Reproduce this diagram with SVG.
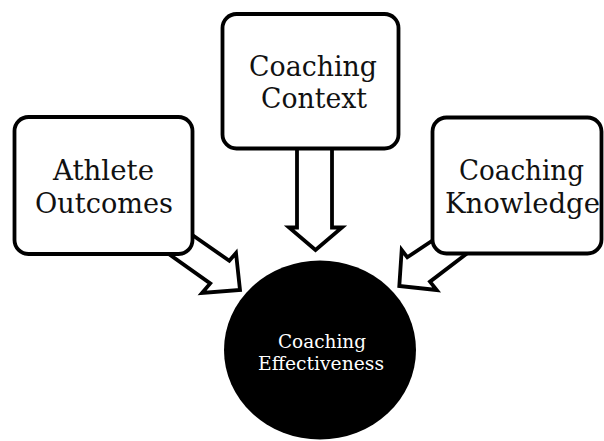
<svg xmlns="http://www.w3.org/2000/svg" width="604" height="441" viewBox="0 0 604 441">
<style>
.box{fill:#fff;stroke:#000;stroke-width:3.8}
.arrow{fill:#fff;stroke:#000;stroke-width:3.8;stroke-linejoin:miter}
.lbl{font-family:"DejaVu Serif","Liberation Serif",serif;font-size:28.5px;fill:#111;text-anchor:middle}
.clbl{font-family:"DejaVu Serif","Liberation Serif",serif;font-size:19px;fill:#fff;text-anchor:middle}
</style>
<rect width="604" height="441" fill="#fff"/>
<g id="connectors">
<polygon class="arrow" points="297,140 297,227.5 289,227.5 315.5,250 342,227.5 332,227.5 332,140"/>
<polygon class="arrow" points="168,218 229.3,260.8 236,253 240,290 202,293 210.2,283.4 148.5,239.6"/>
<polygon class="arrow" points="455.7,225 407.3,257.3 401.7,250 399.3,286 436.7,290 430,281.7 486.7,238.4"/>
</g>
<g id="node-context">
<rect class="box" x="222.5" y="14" width="176" height="134.5" rx="14"/>
<text class="lbl" x="313" y="76" textLength="128" lengthAdjust="spacingAndGlyphs">Coaching</text>
<text class="lbl" x="314" y="108" textLength="106" lengthAdjust="spacingAndGlyphs">Context</text>
</g>
<g id="node-athlete">
<rect class="box" x="14.5" y="117" width="178" height="137" rx="14"/>
<text class="lbl" x="103.5" y="180" textLength="101" lengthAdjust="spacingAndGlyphs">Athlete</text>
<text class="lbl" x="104" y="213" textLength="138" lengthAdjust="spacingAndGlyphs">Outcomes</text>
</g>
<g id="node-knowledge">
<rect class="box" x="432.5" y="117.5" width="169" height="136" rx="14"/>
<text class="lbl" x="521.5" y="180" textLength="125" lengthAdjust="spacingAndGlyphs">Coaching</text>
<text class="lbl" x="522.5" y="213" textLength="155" lengthAdjust="spacingAndGlyphs">Knowledge</text>
</g>
<g id="node-effectiveness">
<ellipse cx="320" cy="350" rx="96" ry="89.5" fill="#000"/>
<text class="clbl" x="322" y="348" textLength="88" lengthAdjust="spacingAndGlyphs">Coaching</text>
<text class="clbl" x="321" y="370" textLength="126" lengthAdjust="spacingAndGlyphs">Effectiveness</text>
</g>
</svg>
